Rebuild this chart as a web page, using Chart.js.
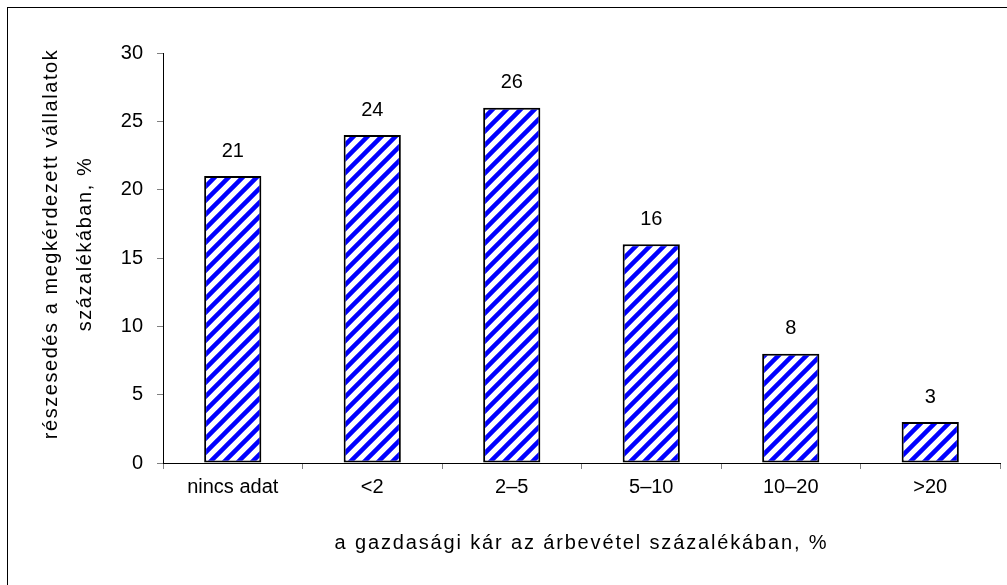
<!DOCTYPE html>
<html>
<head>
<meta charset="utf-8">
<script src="https://cdn.jsdelivr.net/npm/chart.js@4"></script>
<style>
html,body{margin:0;padding:0;background:#fff;}
#wrap{width:1007px;height:585px;position:relative;}
</style>
</head>
<body>
<div id="wrap"><canvas id="c" width="1007" height="585"></canvas></div>
<script>
const categories = ['nincs adat', '<2', '2–5', '5–10', '10–20', '>20'];
const shares = [21, 24, 26, 16, 8, 3];
const yTitle = ['részesedés a megkérdezett vállalatok', 'százalékában, %'];
const xTitle = 'a gazdasági kár az árbevétel százalékában, %';

function makePattern() {
  const s = 14;
  const c = document.createElement('canvas');
  c.width = s; c.height = s;
  const g = c.getContext('2d');
  g.fillStyle = '#fff';
  g.fillRect(0, 0, s, s);
  g.strokeStyle = '#0000ff';
  g.lineWidth = 4.5;
  g.beginPath();
  g.moveTo(-s, s); g.lineTo(s, -s);
  g.moveTo(0, 2 * s); g.lineTo(2 * s, 0);
  g.moveTo(-s, 2 * s); g.lineTo(2 * s, -s);
  g.stroke();
  return document.getElementById('c').getContext('2d').createPattern(c, 'repeat');
}

const FONT = 'Liberation Sans, Arial, sans-serif';

function wrapTitle(scale, spacing, dy) {
  if (scale._wrappedTitle) return;
  scale._wrappedTitle = true;
  const orig = scale.drawTitle;
  scale.drawTitle = function () {
    const ctx = this.ctx;
    ctx.save();
    ctx.letterSpacing = spacing;
    ctx.translate(0, dy);
    orig.apply(this, arguments);
    ctx.restore();
  };
}

const framePlugin = {
  id: 'frame',
  beforeDraw(chart) {
    const ctx = chart.ctx;
    ctx.save();
    ctx.fillStyle = '#fff';
    ctx.fillRect(0, 0, chart.width, chart.height);
    ctx.strokeStyle = '#000';
    ctx.lineWidth = 1;
    ctx.strokeRect(7.5, 7.5, 1010, 600);
    ctx.restore();
  }
};

const labelPlugin = {
  id: 'valueLabels',
  afterDatasetsDraw(chart) {
    const ctx = chart.ctx;
    const meta = chart.getDatasetMeta(0);
    ctx.save();
    ctx.font = '20px ' + FONT;
    ctx.fillStyle = '#000';
    ctx.textAlign = 'center';
    ctx.textBaseline = 'middle';
    meta.data.forEach((bar, i) => {
      ctx.fillText(String(shares[i]), bar.x, bar.y - 25);
    });
    ctx.restore();
  }
};

new Chart(document.getElementById('c'), {
  type: 'bar',
  data: {
    labels: categories,
    datasets: [{
      data: shares,
      backgroundColor: makePattern(),
      borderColor: '#000',
      borderWidth: 2,
      borderSkipped: false,
      categoryPercentage: 1,
      barPercentage: 0.41
    }]
  },
  options: {
    responsive: false,
    animation: false,
    devicePixelRatio: 1,
    layout: { padding: { left: 0, top: 53, right: 7, bottom: 0 } },
    plugins: { legend: { display: false }, tooltip: { enabled: false } },
    scales: {
      x: {
        grid: { drawOnChartArea: false, drawTicks: true, tickLength: 6, color: '#808080', offset: true },
        border: { display: true, color: '#000', width: 1 },
        ticks: { color: '#000', font: { family: FONT, size: 20 }, padding: 6, maxRotation: 0 },
        title: { display: true, text: xTitle, color: '#000', font: { family: FONT, size: 20 }, padding: { top: 0, bottom: 30 } },
        afterFit(scale) { scale.height = 122; wrapTitle(scale, '1.85px', 0); }
      },
      y: {
        min: 0, max: 30,
        grid: { drawOnChartArea: false, drawTicks: true, tickLength: 6, color: '#808080' },
        border: { display: true, color: '#000', width: 1 },
        ticks: { stepSize: 5, color: '#000', font: { family: FONT, size: 20 }, padding: 14 },
        title: { display: true, text: yTitle, color: '#000', font: { family: FONT, size: 20, lineHeight: 34 / 20 }, padding: { top: 34 } },
        afterFit(scale) { scale.width = 163; wrapTitle(scale, '1.55px', -14); }
      }
    }
  },
  plugins: [framePlugin, labelPlugin]
});
</script>
</body>
</html>
